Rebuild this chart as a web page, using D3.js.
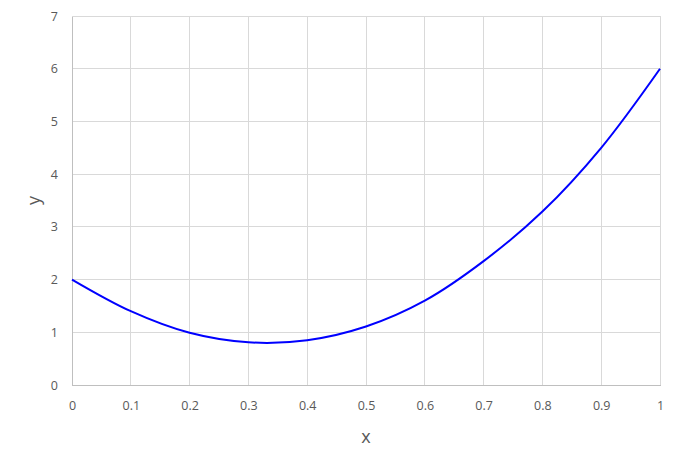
<!DOCTYPE html>
<html><head><meta charset="utf-8">
<script src="https://cdn.jsdelivr.net/npm/d3@7"></script>
<style>body{margin:0;background:#fff;} text{font-family:"Open Sans","Noto Sans",sans-serif;fill:#595959;}</style>
</head><body>
<svg id="chart" width="679" height="465"></svg>
<script>
const xValues = [0, 0.1, 0.2, 0.3, 0.4, 0.5, 0.6, 0.7, 0.8, 0.9, 1.0];
const yValues = [2.0, 1.40, 0.99, 0.81, 0.85, 1.11, 1.60, 2.35, 3.29, 4.50, 6.0];
const xTicks = [0, 0.1, 0.2, 0.3, 0.4, 0.5, 0.6, 0.7, 0.8, 0.9, 1];
const yTicks = [0, 1, 2, 3, 4, 5, 6, 7];

const svg = d3.select("#chart");
const m = {left: 72, right: 19, top: 16, bottom: 80};
const W = 679, H = 465;
const x = d3.scaleLinear().domain([0, 1]).range([m.left, W - m.right]);
const y = d3.scaleLinear().domain([0, 7]).range([H - m.bottom, m.top]);

// gridlines
svg.append("g").selectAll("line").data(xTicks.slice(1)).join("line")
  .attr("x1", d => x(d)).attr("x2", d => x(d)).attr("y1", y(0)).attr("y2", y(7))
  .attr("stroke", "#d9d9d9").attr("stroke-width", 1).attr("shape-rendering", "crispEdges");
svg.append("g").selectAll("line").data(yTicks.slice(1)).join("line")
  .attr("x1", x(0)).attr("x2", x(1)).attr("y1", d => y(d)).attr("y2", d => y(d))
  .attr("stroke", "#d9d9d9").attr("stroke-width", 1).attr("shape-rendering", "crispEdges");

// axes
const xAxis = d3.axisBottom(x).tickValues(xTicks).tickSize(0).tickPadding(16).tickFormat(d => String(d));
const gx = svg.append("g").attr("transform", `translate(0,${y(0)})`).call(xAxis);
gx.select(".domain").attr("stroke", "#bfbfbf").attr("shape-rendering", "crispEdges");
gx.selectAll("text").attr("font-size", 12.5).style("fill", "#595959");

const yAxis = d3.axisLeft(y).tickValues(yTicks).tickSize(0).tickPadding(14).tickFormat(d => String(d));
const gy = svg.append("g").attr("transform", `translate(${x(0)},0)`).call(yAxis);
gy.select(".domain").attr("stroke", "#bfbfbf").attr("shape-rendering", "crispEdges");
gy.selectAll("text").attr("font-size", 12.5).style("fill", "#595959");

// curve
const pts = xValues.map((v, i) => [v, yValues[i]]);
svg.append("path").datum(pts)
  .attr("d", d3.line().x(d => x(d[0])).y(d => y(d[1])).curve(d3.curveCatmullRom))
  .attr("fill", "none").attr("stroke", "#0000ff").attr("stroke-width", 2);

// axis titles
svg.append("text").attr("x", (x(0) + x(1)) / 2).attr("y", 443).attr("text-anchor", "middle")
  .attr("font-size", 18).text("x");
svg.append("text").attr("transform", `translate(40,${(y(0) + y(7)) / 2}) rotate(-90)`)
  .attr("text-anchor", "middle").attr("font-size", 18).text("y");
</script>
</body></html>
